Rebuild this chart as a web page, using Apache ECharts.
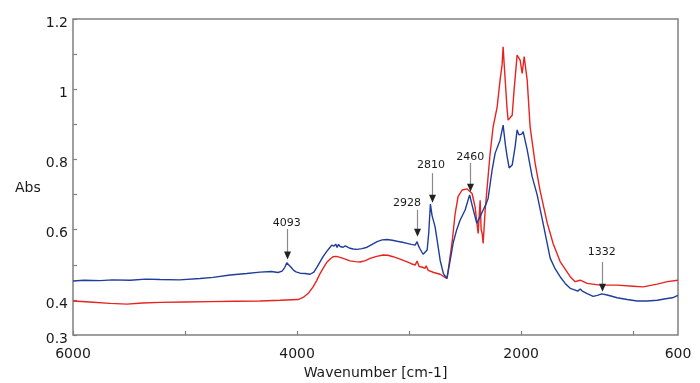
<!DOCTYPE html>
<html>
<head>
<meta charset="utf-8">
<script src="https://cdn.jsdelivr.net/npm/echarts@6/dist/echarts.min.js"></script>
<style>html,body{margin:0;padding:0;background:#fff}#c{width:700px;height:383px}</style>
</head>
<body>
<div id="c"></div>
<script>
// ---- data ----
const blueWn  = [6000,5900,5759,5650,5491,5350,5223,5050,4866,4750,4598,4450,4330,4230,4170,4134,4110,4092,4075,4054,4030,4009,3973,3929,3884,3850,3821,3795,3768,3735,3705,3690,3670,3655,3643,3630,3616,3600,3589,3570,3554,3527,3500,3464,3420,3375,3330,3286,3240,3196,3150,3107,3060,3018,2980,2946,2929,2915,2902,2875,2839,2825,2810,2795,2768,2750,2723,2694,2663,2635,2607,2575,2545,2500,2460,2430,2396,2370,2339,2315,2295,2259,2232,2188,2161,2140,2125,2107,2080,2054,2036,2020,2009,1995,1982,1946,1902,1857,1804,1741,1696,1652,1607,1562,1518,1495,1473,1450,1411,1357,1320,1280,1232,1143,1054,964,875,786,696,650,600];
const blueAbs = [0.454,0.456,0.455,0.457,0.456,0.459,0.458,0.457,0.461,0.464,0.471,0.475,0.479,0.481,0.478,0.482,0.492,0.506,0.502,0.493,0.484,0.480,0.476,0.475,0.473,0.479,0.494,0.508,0.523,0.538,0.550,0.556,0.553,0.559,0.549,0.558,0.552,0.556,0.550,0.554,0.549,0.547,0.545,0.544,0.546,0.550,0.558,0.566,0.571,0.572,0.570,0.567,0.564,0.561,0.558,0.556,0.566,0.553,0.545,0.530,0.542,0.590,0.673,0.640,0.608,0.570,0.513,0.475,0.461,0.510,0.562,0.600,0.627,0.656,0.699,0.660,0.618,0.635,0.656,0.672,0.689,0.770,0.818,0.855,0.898,0.840,0.808,0.776,0.784,0.836,0.884,0.870,0.875,0.872,0.879,0.827,0.751,0.699,0.618,0.519,0.488,0.466,0.447,0.433,0.428,0.425,0.431,0.424,0.418,0.410,0.413,0.417,0.414,0.406,0.401,0.397,0.397,0.399,0.404,0.406,0.413];
const redWn   = [6000,5850,5670,5518,5380,5223,5000,4777,4550,4330,4150,3991,3946,3902,3857,3825,3795,3760,3732,3700,3679,3650,3616,3570,3527,3480,3438,3390,3348,3290,3232,3190,3143,3080,3018,2980,2946,2929,2911,2880,2857,2848,2830,2780,2723,2679,2661,2640,2616,2589,2563,2527,2482,2438,2411,2384,2366,2357,2348,2339,2321,2295,2277,2250,2214,2188,2170,2161,2152,2125,2116,2080,2063,2036,2009,1991,1973,1946,1920,1875,1830,1768,1714,1652,1562,1518,1473,1411,1295,1143,1000,911,786,696,600];
const redAbs  = [0.397,0.394,0.390,0.388,0.391,0.393,0.394,0.395,0.396,0.397,0.399,0.401,0.407,0.418,0.437,0.455,0.475,0.494,0.508,0.518,0.523,0.524,0.521,0.516,0.511,0.509,0.508,0.512,0.518,0.524,0.528,0.527,0.523,0.516,0.508,0.503,0.499,0.511,0.495,0.493,0.490,0.497,0.484,0.478,0.473,0.464,0.461,0.510,0.565,0.646,0.694,0.713,0.716,0.703,0.665,0.589,0.684,0.600,0.589,0.561,0.656,0.751,0.817,0.893,0.950,1.026,1.070,1.121,1.074,0.941,0.912,0.926,0.998,1.097,1.083,1.045,1.093,1.026,0.893,0.789,0.710,0.620,0.560,0.509,0.466,0.452,0.456,0.447,0.442,0.442,0.439,0.437,0.445,0.452,0.456];
// annotations: arrow wavenumber, tip Abs, top Abs, label wavenumber, label Abs, text
const annWn     = [4092, 2929, 2800, 2455, 1280];
const annTip    = [0.515, 0.580, 0.677, 0.708, 0.423];
const annTop    = [0.602, 0.656, 0.761, 0.790, 0.508];
const annLblWn  = [4092, 3018, 2805, 2455, 1280];
const annLblAbs = [0.620, 0.675, 0.784, 0.806, 0.537];
const annText   = ['4093', '2928', '2810', '2460', '1332'];
// axes
const xTickValues  = [1000, 2000, 3000, 4000, 5000, 6000];
const xLabelValues = [6000, 4000, 2000, 600];
const yTickValues  = [0.3, 0.4, 0.5, 0.6, 0.7, 0.8, 0.9, 1.0, 1.1, 1.2];
const yLabelValues = [0.3, 0.4, 0.6, 0.8, 1.0, 1.2];

const zip = (a, b) => a.map((v, i) => [v, b[i]]);
const FONT = 'DejaVu Sans';
const chart = echarts.init(document.getElementById('c'));
chart.setOption({
  animation: false,
  grid: { left: 73, right: 22, top: 19, bottom: 48, show: true, borderColor: '#808080', borderWidth: 1.5,
    containLabel: false, outerBoundsMode: 'none' },
  graphic: [{ type: 'text', left: 15, top: 181, style: { text: 'Abs', font: '14px "DejaVu Sans"', fill: '#1a1a1a' } }],
  xAxis: {
    type: 'value', min: 600, max: 6000, inverse: true,
    name: 'Wavenumber [cm-1]', nameLocation: 'middle', nameGap: 30,
    nameTextStyle: { fontFamily: FONT, fontSize: 14, color: '#1a1a1a' },
    axisLine: { show: false },
    splitLine: { show: false },
    axisTick: { show: true, inside: true, length: 4, customValues: xTickValues, lineStyle: { color: '#808080', width: 1.2 } },
    axisLabel: { customValues: xLabelValues, fontFamily: FONT, fontSize: 14, color: '#1a1a1a', margin: 12,
      formatter: v => String(Math.round(v)) }
  },
  yAxis: {
    type: 'value', min: 0.3, max: 1.2,
    axisLine: { show: false },
    splitLine: { show: false },
    axisTick: { show: true, inside: true, length: 4, customValues: yTickValues, lineStyle: { color: '#808080', width: 1.2 } },
    axisLabel: { customValues: yLabelValues, color: '#1a1a1a', margin: 5,
      formatter: v => '{a|' + String(+(+v).toFixed(2)) + '}',
      rich: { a: { fontFamily: FONT, fontSize: 14, color: '#1a1a1a', padding: [8, 0, 0, 0] } } }
  },
  series: [
    { type: 'line', data: zip(redWn, redAbs), showSymbol: false, lineStyle: { color: '#e8231f', width: 1.4 }, z: 2 },
    { type: 'line', data: zip(blueWn, blueAbs), showSymbol: false, lineStyle: { color: '#1f3d9c', width: 1.4 }, z: 3 },
    {
      type: 'custom', clip: false, z: 5,
      data: annWn.map((w, i) => [w, annTip[i], annTop[i], annLblWn[i], annLblAbs[i]]),
      encode: { x: 0, y: 1 },
      renderItem: (params, api) => {
        const i = params.dataIndex;
        const pTop = api.coord([api.value(0), api.value(2)]);
        const pTip = api.coord([api.value(0), api.value(1)]);
        const pLbl = api.coord([api.value(3), api.value(4)]);
        const x = Math.round(pTop[0]) + 0.5;
        return { type: 'group', children: [
          { type: 'line', shape: { x1: x, y1: pTop[1], x2: x, y2: pTip[1] - 6 }, style: { stroke: '#8a8a8a', lineWidth: 1.2 } },
          { type: 'polygon', shape: { points: [[x - 3.5, pTip[1] - 8], [x + 3.5, pTip[1] - 8], [x, pTip[1]]] }, style: { fill: '#222' } },
          { type: 'text', x: pLbl[0], y: pLbl[1], style: { text: annText[i], font: '11px "DejaVu Sans"', fill: '#1a1a1a', align: 'center', verticalAlign: 'middle' } }
        ] };
      }
    }
  ]
});
</script>
</body>
</html>
